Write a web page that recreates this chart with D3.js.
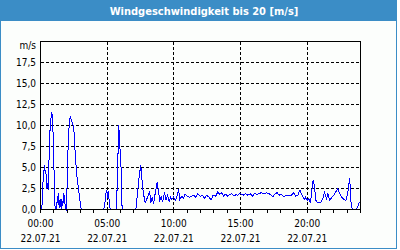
<!DOCTYPE html>
<html>
<head>
<meta charset="utf-8">
<script src="https://cdn.jsdelivr.net/npm/d3@7"></script>
<style>
  body { margin: 0; background: #ffffff; }
  svg text { font-family: "DejaVu Sans Condensed", "DejaVu Sans", sans-serif; font-stretch: condensed; }
</style>
</head>
<body>
<div id="chart"></div>
<script>
// hours since 00:00 (22.07.21) and wind speed in m/s
var hours = [0.00,0.10,0.20,0.30,0.35,0.40,0.47,0.52,0.58,0.65,0.73,0.85,0.92,1.00,1.07,1.15,
  1.20,1.28,1.35,1.40,1.48,1.55,1.60,1.67,1.75,1.80,1.88,1.95,
  2.05,2.15,2.23,2.30,2.40,2.50,2.60,2.72,2.85,3.02,3.08,
  4.72,4.80,4.90,4.97,5.05,5.10,5.18,5.25,
  5.70,5.87,5.94,6.04,6.11,6.19,
  7.15,7.30,7.40,7.52,7.60,7.70,7.85,7.95,8.05,8.18,8.27,8.38,8.48,8.60,8.75,8.85,8.95,
  9.05,9.17,9.30,9.40,9.53,9.65,9.75,9.85,9.98,10.10,10.22,10.35,10.45,10.60,10.73,10.85,
  11.00,11.15,11.30,11.48,11.65,11.80,11.98,12.15,12.30,12.47,12.65,12.80,12.95,13.13,
  13.30,13.45,13.60,13.73,13.85,14.03,14.20,14.35,14.53,14.65,14.80,14.95,
  15.20,15.38,15.55,15.75,15.90,16.05,16.25,16.40,16.55,16.75,16.95,17.12,17.30,17.45,
  17.57,17.75,17.90,18.05,18.25,18.45,18.62,18.80,19.00,19.13,19.30,19.45,19.57,19.70,
  19.80,19.88,20.00,20.12,20.25,20.35,20.45,20.55,20.65,20.80,21.00,21.15,21.30,21.45,
  21.55,21.70,21.85,22.00,22.15,22.30,22.45,22.60,22.75,22.90,23.05,23.18,23.25,23.30,
  23.38,23.55,23.70,23.83,23.92];
var speeds = [0,0,3.7,5.3,4.3,4.7,2.5,3.1,2.3,6.5,10.1,11.6,10.2,5.7,0.5,0,
  0.3,1.4,1.9,0.2,1.3,0.1,1.2,0.4,1.9,1.0,0.2,0,
  6.6,10.1,11.1,10.7,10.3,9.6,6.7,4.1,2.5,0.2,0,
  0,0.3,1.9,2.3,1.4,2.2,0.3,0,
  0,10.0,7.9,5.0,0.5,0,
  0,2.3,3.9,5.3,3.7,2.1,0.8,1.2,1.5,2.2,0.8,1.5,0.7,1.9,3.3,2.1,1.1,
  1.5,0.9,2.1,1.1,1.7,0.9,1.5,1.2,1.5,1.05,1.45,2.4,1.2,1.6,1.35,1.85,
  1.6,1.45,1.55,1.7,1.45,1.9,1.55,1.7,1.35,1.7,1.45,1.15,1.7,1.55,
  2.1,1.8,2.0,1.6,1.85,1.6,1.8,1.9,1.6,1.75,1.7,1.9,
  1.7,1.9,1.7,1.85,1.6,1.9,1.8,1.9,2.0,1.85,2.0,1.9,1.7,1.5,
  1.85,2.0,1.7,1.85,1.5,1.7,1.6,1.7,2.0,1.6,1.7,2.3,1.9,1.45,
  1.2,1.45,1.1,1.3,0.8,2.3,3.5,2.7,1.1,0.8,0.8,1.2,2.0,1.3,
  1.9,1.05,1.5,1.7,2.1,2.5,1.85,1.45,1.2,1.1,2.0,3.7,2.3,0.5,
  0.1,0,0,0.5,0.9];

var yTicks = [0, 2.5, 5, 7.5, 10, 12.5, 15, 17.5];
var xMajor = [0, 5, 10, 15, 20];
var xLabels = ["00:00", "05:00", "10:00", "15:00", "20:00"];
var dateLabel = "22.07.21";
var title = "Windgeschwindigkeit bis 20 [m/s]";

var W = 400, H = 250;
var blue = "#3b8dc6";

var svg = d3.select("#chart").append("svg")
    .attr("width", W).attr("height", H);

// panel + title bar
svg.append("rect")
    .attr("x", 0.5).attr("y", 0.5).attr("width", 396).attr("height", 248)
    .style("fill", "#fcfefc").style("stroke", blue);
svg.append("rect")
    .attr("x", 0).attr("y", 0).attr("width", 397).attr("height", 21)
    .style("fill", blue);
svg.append("text")
    .attr("x", 204).attr("y", 14.5)
    .attr("text-anchor", "middle")
    .style("font-size", "11px").style("font-weight", "bold")
    .style("fill", "#ffffff")
    .text(title);

var x = d3.scaleLinear().domain([0, 24]).range([40.5, 360.5]);
var y = d3.scaleLinear().domain([0, 20]).range([209.5, 41.5]);
function px(h){ return Math.floor(x(h)) + 0.5; }

var g = svg.append("g");

// grid
g.selectAll(".hgrid").data(yTicks.filter(function(d){ return d > 0; }))
  .enter().append("line")
    .attr("class", "hgrid")
    .attr("x1", 40.5).attr("x2", 360.5)
    .attr("y1", function(d){ return y(d); }).attr("y2", function(d){ return y(d); })
    .style("stroke", "#000").style("stroke-dasharray", "3,2")
    .style("shape-rendering", "crispEdges");
g.selectAll(".vgrid").data(xMajor.filter(function(d){ return d > 0; }))
  .enter().append("line")
    .attr("class", "vgrid")
    .attr("x1", px).attr("x2", px)
    .attr("y1", 41.5).attr("y2", 209.5)
    .style("stroke", "#000").style("stroke-dasharray", "3,2")
    .style("shape-rendering", "crispEdges");

// wind line
var pts = hours.map(function(h, i){ return [h, speeds[i]]; });
var line = d3.line()
    .x(function(d){ return x(d[0]); })
    .y(function(d){ return y(d[1]); });
g.append("path")
    .datum(pts)
    .attr("d", line)
    .style("fill", "none").style("stroke", "#0000ff").style("stroke-width", 1)
    .style("shape-rendering", "crispEdges");

// frame on top
g.append("rect")
    .attr("x", 40.5).attr("y", 41.5).attr("width", 320).attr("height", 168)
    .style("fill", "none").style("stroke", "#000")
    .style("shape-rendering", "crispEdges");

// hourly ticks below axis
g.selectAll(".tick").data(d3.range(0, 25))
  .enter().append("line")
    .attr("x1", px).attr("x2", px)
    .attr("y1", 209.5).attr("y2", 213)
    .style("stroke", "#000").style("shape-rendering", "crispEdges");

// y labels
g.selectAll(".ylab").data(yTicks)
  .enter().append("text")
    .attr("x", 36).attr("y", function(d){ return y(d) + 3.5; })
    .attr("text-anchor", "end")
    .style("font-size", "10px").style("fill", "#000")
    .text(function(d){ return d3.format(".1f")(d).replace(".", ","); });
g.append("text")
    .attr("x", 36).attr("y", 48.5)
    .attr("text-anchor", "end")
    .style("font-size", "10px").style("fill", "#000")
    .text("m/s");

// x labels
xMajor.forEach(function(h, i){
  g.append("text")
      .attr("x", x(h)).attr("y", 226.5)
      .attr("text-anchor", "middle")
      .style("font-size", "10px").style("fill", "#000")
      .text(xLabels[i]);
  g.append("text")
      .attr("x", x(h)).attr("y", 242)
      .attr("text-anchor", "middle")
      .style("font-size", "10px").style("fill", "#000")
      .text(dateLabel);
});
</script>
</body>
</html>
